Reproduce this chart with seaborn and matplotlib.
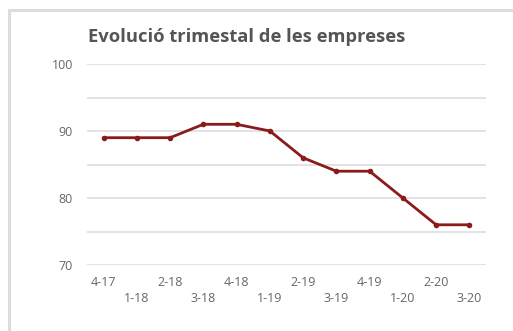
import matplotlib
matplotlib.use("Agg")
import matplotlib.pyplot as plt
from matplotlib.lines import Line2D
import seaborn as sns
import pandas as pd

quarters = ["4-17", "1-18", "2-18", "3-18", "4-18", "1-19", "2-19",
            "3-19", "4-19", "1-20", "2-20", "3-20"]
companies = [89, 89, 89, 91, 91, 90, 86, 84, 84, 80, 76, 76]
y_ticks = [70, 80, 90, 100]
grid_levels = [70, 75, 80, 85, 90, 95, 100]

df = pd.DataFrame({"pos": range(len(quarters)), "valor": companies})

sns.set_theme(style="white")
plt.rcParams["font.family"] = ["Open Sans", "DejaVu Sans"]

W, H = 513, 331
fig = plt.figure(figsize=(W / 100, H / 100), dpi=100)
fig.patch.set_facecolor("white")

# light frame along the top and left of the panel
frame_kw = dict(transform=fig.transFigure, color="#dcdcdc", linewidth=2.2)
fig.lines.append(Line2D([9 / W, 1.0], [1 - 10 / H, 1 - 10 / H], **frame_kw))
fig.lines.append(Line2D([9 / W, 9 / W], [0.0, 1 - 10 / H], **frame_kw))

ax = fig.add_axes([87 / W, 1 - 265 / H, 399 / W, 201 / H])

for g in grid_levels:
    ax.axhline(g, color="#e0e0e0", linewidth=1.3, zorder=0)

sns.lineplot(data=df, x="pos", y="valor", ax=ax, color="#8a1b1b",
             linewidth=2.0, marker="o", markersize=4,
             markeredgewidth=0, zorder=3)

ax.set_xlim(-0.5, len(quarters) - 0.5)
ax.set_ylim(70, 100)
ax.set_yticks(y_ticks)
ax.set_yticklabels([str(v) for v in y_ticks])
ax.set_xticks(range(len(quarters)))
ax.set_xticklabels([q if i % 2 == 0 else "\n" + q
                    for i, q in enumerate(quarters)],
                   linespacing=1.25)
ax.tick_params(axis="y", length=0, pad=10, labelsize=9, labelcolor="#666666")
ax.tick_params(axis="x", length=0, pad=8, labelsize=9, labelcolor="#666666")
ax.set_xlabel("")
ax.set_ylabel("")
for s in ax.spines.values():
    s.set_visible(False)
ax.set_facecolor("none")

fig.text(88 / W, 1 - 37 / H, "Evolució trimestal de les empreses",
         fontsize=13.2, fontweight="bold", color="#555555",
         ha="left", va="center")

fig.savefig("out.png", dpi=100, facecolor="white")
